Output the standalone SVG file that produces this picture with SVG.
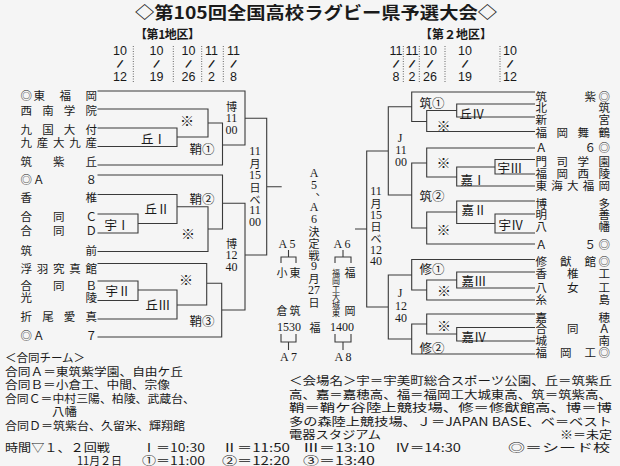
<svg xmlns="http://www.w3.org/2000/svg" width="620" height="466" viewBox="0 0 620 466">
<style>
text{font-family:"Noto Sans CJK JP","Noto Sans",sans-serif;fill:#1a1a1a;dominant-baseline:central}
.nm{font-size:11.5px}
.lb{font-size:12.5px;text-anchor:middle}
.km{font-size:14px;text-anchor:middle}
.vk{font-size:11px;text-anchor:middle}
.sq{font-size:8px;text-anchor:middle}
.s{font-family:"Liberation Serif","Noto Sans CJK JP",serif;font-size:12px}
.dt{font-family:"Liberation Sans","Noto Sans",sans-serif;font-size:12.5px;text-anchor:middle}
.sl{font-family:"Liberation Sans",sans-serif;font-size:12px;text-anchor:middle;font-weight:bold}
.ttl{font-size:16.5px;font-weight:bold}
.hd{font-size:12px;font-weight:bold}
.nt{font-size:11.5px}
.ln{fill:none;stroke:#3a3a3a;stroke-width:1.1}
.dot{fill:none;stroke:#666;stroke-width:1;stroke-dasharray:1 1.5}
</style>
<rect width="620" height="466" fill="#f5f5f5"/>
<g id="title">
<text class="ttl" x="135" y="12" textLength="362" lengthAdjust="spacingAndGlyphs">◇第105回全国高校ラグビー県予選大会◇</text>
<text class="hd" x="135" y="33" textLength="65">【第1地区】</text>
<text class="hd" x="420" y="33" textLength="72">【第２地区】</text>
</g>
<g id="dates">
<path class="dot" d="M133.3 46V82M173.3 46V82M201.7 46V82M223.3 46V82M403.3 46V82M419.3 46V82M445 46V82M500 46V82"/>
<text class="dt" x="120" y="51">10</text><text class="sl" x="120" y="64" transform="rotate(25 120 64)">/</text><text class="dt" x="120" y="77">12</text>
<text class="dt" x="156.5" y="51">10</text><text class="sl" x="156.5" y="64" transform="rotate(25 156.5 64)">/</text><text class="dt" x="156.5" y="77">19</text>
<text class="dt" x="188.5" y="51">10</text><text class="sl" x="188.5" y="64" transform="rotate(25 188.5 64)">/</text><text class="dt" x="188.5" y="77">26</text>
<text class="dt" x="211.5" y="51">11</text><text class="sl" x="211.5" y="64" transform="rotate(25 211.5 64)">/</text><text class="dt" x="211.5" y="77">2</text>
<text class="dt" x="233.5" y="51">11</text><text class="sl" x="233.5" y="64" transform="rotate(25 233.5 64)">/</text><text class="dt" x="233.5" y="77">8</text>
<text class="dt" x="396" y="51">11</text><text class="sl" x="396" y="64" transform="rotate(25 396 64)">/</text><text class="dt" x="396" y="77">8</text>
<text class="dt" x="412" y="51">11</text><text class="sl" x="412" y="64" transform="rotate(25 412 64)">/</text><text class="dt" x="412" y="77">2</text>
<text class="dt" x="430" y="51">10</text><text class="sl" x="430" y="64" transform="rotate(25 430 64)">/</text><text class="dt" x="430" y="77">26</text>
<text class="dt" x="465" y="51">10</text><text class="sl" x="465" y="64" transform="rotate(25 465 64)">/</text><text class="dt" x="465" y="77">19</text>
<text class="dt" x="510" y="51">10</text><text class="sl" x="510" y="64" transform="rotate(25 510 64)">/</text><text class="dt" x="510" y="77">12</text>
</g>
<g id="connectors">
<path class="ln" d="M97.5 91H245V145H222.5M208 123H222.5V165H97.5M97.5 109H208V137H177M97.5 128H177V146.5H97.5M245 118.3H266.7V255H245M266.7 186.7H281.7M222.5 203.3H245V310H221.7M97.5 175H222.5V229H208M97.5 194.5H177V223.5H138M97.5 214H138V233H97.5M177 206.7H208V251.5H97.5M206.7 283.3H221.7V337H97.5M97.5 263.5H206.7V305H177M138 290H177V319H97.5M97.5 281H138V300.5H97.5"/>
<path class="ln" d="M411.7 106.7H388.3V195H411.7M388.3 151H366.7V307H388.3M366.7 229H355M535 92H411.7V121.5H426.7M456.7 110.5H426.7V131.5H535M535 104H456.7V117H535M426.7 163H411.7V228H426.7M535 148H426.7V177H456.7M495 167H456.7V186H535M535 159.5H495V174H535M456.7 212H426.7V244H535M535 201H456.7V223.5H495M535 214H495V233H535M411.7 275H388.3V339H411.7M535 259.5H411.7V290H426.7M456.7 280H426.7V300H535M535 272H456.7V288H535M426.7 324H411.7V354H535M535 314H426.7V334H456.7M535 327.5H456.7V341H535"/>
<path class="ln" d="M288.5 250V257M281 263V257H296V263M343 250V257M335 263V257H351V263M281 334V342H296V334M288.5 342V350M335 334V342H351V334M343 342V350"/>
</g>
<g id="teams-left">
<g id="L1"><text class="nm" x="20.5 33.5 59.5 85.5" y="95">◎東福岡</text></g>
<g id="L2"><text class="nm" x="20.5 42.2 63.8 85.5" y="110">西南学院</text></g>
<g id="L3"><text class="nm" x="20.5 42.2 63.8 85.5" y="129">九国大付</text></g>
<g id="L4"><text class="nm" x="20.5 36.75 53 69.25 85.5" y="142">九産大九産</text></g>
<g id="L5"><text class="nm" x="20.5 53 85.5" y="161">筑紫丘</text></g>
<g id="L6"><text class="nm" x="20.5 33 85.5" y="179">◎Ａ８</text></g>
<g id="L7"><text class="nm" x="20.5 85.5" y="197">香椎</text></g>
<g id="L8"><text class="nm" x="20.5 53 85.5" y="216">合同Ｃ</text></g>
<g id="L9"><text class="nm" x="20.5 53 85.5" y="230">合同Ｄ</text></g>
<g id="L10"><text class="nm" x="20.5 85.5" y="250">筑前</text></g>
<g id="L11"><text class="nm" x="20.5 36.75 53 69.25 85.5" y="268">浮羽究真館</text></g>
<g id="L12"><text class="nm" x="20.5 53 85.5" y="285">合同Ｂ</text></g>
<g id="L13"><text class="nm" x="20.5 85.5" y="297">光陵</text></g>
<g id="L14"><text class="nm" x="20.5 42.2 63.8 85.5" y="316">折尾愛真</text></g>
<g id="L15"><text class="nm" x="20.5 33 85.5" y="335">◎Ａ７</text></g>
</g>
<g id="teams-right">
<g id="R1"><text class="nm" x="535.5 584.5 598.5" y="95.5">筑紫◎</text></g>
<g id="R2"><text class="nm" x="535.5 598.5" y="106.5">北筑</text></g>
<g id="R3"><text class="nm" x="535.5 598.5" y="118.5">新宮</text></g>
<g id="R4"><text class="nm" x="535.5 556.5 577.5 598.5" y="132">福岡舞鶴</text></g>
<g id="R5"><text class="nm" x="535.5 584.5 598.5" y="147">Ａ６◎</text></g>
<g id="R6"><text class="nm" x="535.5 556.5 577.5 598.5" y="161">門司学園</text></g>
<g id="R7"><text class="nm" x="535.5 556.5 577.5 598.5" y="173">福岡西陵</text></g>
<g id="R8"><text class="nm" x="535.5 551.25 567 582.75 598.5" y="185">東海大福岡</text></g>
<g id="R9"><text class="nm" x="535.5 598.5" y="202.5">博多</text></g>
<g id="R10"><text class="nm" x="535.5 598.5" y="214">明善</text></g>
<g id="R11"><text class="nm" x="535.5 598.5" y="225.5">八幡</text></g>
<g id="R12"><text class="nm" x="535.5 584.5 598.5" y="243.5">Ａ５◎</text></g>
<g id="R13"><text class="nm" x="535.5 560 584.5 598.5" y="261">修猷館◎</text></g>
<g id="R14"><text class="nm" x="535.5 567 598.5" y="273">香椎工</text></g>
<g id="R15"><text class="nm" x="535.5 567 598.5" y="287">八女工</text></g>
<g id="R16"><text class="nm" x="535.5 598.5" y="298.5">糸島</text></g>
<g id="R17"><text class="nm" x="535.5 598.5" y="316.5">嘉穂</text></g>
<g id="R18"><text class="nm" x="535.5 567 598.5" y="328">合同Ａ</text></g>
<g id="R19"><text class="nm" x="535.5 598.5" y="339.5">城南</text></g>
<g id="R20"><text class="nm" x="535.5 560 584.5 598.5" y="352">福岡工◎</text></g>
</g>
<g id="matches">
<text class="lb" x="153.5" y="138">丘Ⅰ</text>
<text class="km" x="187" y="120">※</text>
<text class="lb" x="202" y="148">鞘①</text>
<text class="lb" x="157" y="208">丘Ⅱ</text>
<text class="lb" x="117" y="224">宇Ⅰ</text>
<text class="km" x="188" y="233">※</text>
<text class="lb" x="202" y="198">鞘②</text>
<text class="km" x="186" y="279">※</text>
<text class="lb" x="118" y="290">宇Ⅱ</text>
<text class="lb" x="158" y="304">丘Ⅲ</text>
<text class="lb" x="202" y="320">鞘③</text>
<text class="vk" x="231.5"><tspan x="231.5" y="105.5">博</tspan><tspan class="s" x="231.5" y="117.5">11</tspan><tspan class="s" x="231.5" y="130">00</tspan></text>
<text class="vk" x="231.5"><tspan x="231.5" y="243">博</tspan><tspan class="s" x="231.5" y="255">12</tspan><tspan class="s" x="231.5" y="267">40</tspan></text>
<text class="vk" x="255"><tspan class="s" x="255" y="151">11</tspan><tspan x="255" y="163">月</tspan><tspan class="s" x="255" y="175">15</tspan><tspan x="255" y="187">日</tspan><tspan x="255" y="198.5">ベ</tspan><tspan class="s" x="255" y="210">11</tspan><tspan class="s" x="255" y="222">00</tspan></text>
<text class="lb" x="432" y="102">筑①</text>
<text class="lb" x="472" y="113">丘Ⅳ</text>
<text class="km" x="443.5" y="125">※</text>
<text class="km" x="443.5" y="162">※</text>
<text class="lb" x="510" y="167">宇Ⅲ</text>
<text class="lb" x="473" y="179">嘉Ⅰ</text>
<text class="lb" x="432" y="195">筑②</text>
<text class="lb" x="474" y="209">嘉Ⅱ</text>
<text class="lb" x="511" y="224">宇Ⅳ</text>
<text class="km" x="443.5" y="229">※</text>
<text class="lb" x="432" y="268">修①</text>
<text class="lb" x="474" y="280">嘉Ⅲ</text>
<text class="km" x="444" y="290">※</text>
<text class="km" x="444" y="325">※</text>
<text class="lb" x="474" y="336">嘉Ⅳ</text>
<text class="lb" x="432" y="347">修②</text>
<text class="vk" x="400"><tspan class="s" x="400" y="138">J</tspan><tspan class="s" x="401" y="150">11</tspan><tspan class="s" x="401" y="162">00</tspan></text>
<text class="vk" x="400"><tspan class="s" x="400" y="293">J</tspan><tspan class="s" x="401" y="306">12</tspan><tspan class="s" x="401" y="318">40</tspan></text>
<text class="vk" x="376"><tspan class="s" x="376" y="191">11</tspan><tspan x="376" y="203">月</tspan><tspan class="s" x="376" y="214.5">15</tspan><tspan x="376" y="226">日</tspan><tspan x="376" y="238">ベ</tspan><tspan class="s" x="376" y="249.5">12</tspan><tspan class="s" x="376" y="261">40</tspan></text>
</g>
<g id="center">
<text class="vk"><tspan class="s" x="314" y="173">A</tspan><tspan class="s" x="314" y="185">5</tspan><tspan x="321" y="190">、</tspan><tspan class="s" x="314" y="207">A</tspan><tspan class="s" x="314" y="218.5">6</tspan><tspan x="314" y="231">決</tspan><tspan x="314" y="243">定</tspan><tspan x="314" y="254.5">戦</tspan><tspan class="s" x="314" y="266">9</tspan><tspan x="314" y="278">月</tspan><tspan class="s" x="314" y="290">27</tspan><tspan x="314" y="302">日</tspan></text>
<g id="A5"><text class="vk s" x="287" y="244">A 5</text>
<text class="vk" x="282" y="272">小</text><text class="vk" x="282" y="310">倉</text>
<text class="vk" x="295" y="272">東</text><text class="vk" x="295" y="310">筑</text></g>
<g id="A6"><text class="vk s" x="342" y="244">A 6</text>
<text class="sq"><tspan x="336" y="271.5">福</tspan><tspan x="336" y="279.5">岡</tspan><tspan x="336" y="287.5">工</tspan><tspan x="336" y="295.5">大</tspan><tspan x="336" y="303.5">城</tspan><tspan x="336" y="311.5">東</tspan></text>
<text class="vk" x="350" y="272">福</text><text class="vk" x="350" y="310">岡</text></g>
<text class="vk s" x="289" y="327">1530</text>
<text class="vk" x="315" y="327">福</text>
<text class="vk s" x="342" y="327">1400</text>
<g id="A7"><text class="vk s" x="288.5" y="357">A 7</text></g>
<g id="A8"><text class="vk s" x="343" y="357">A 8</text></g>
</g>
<g id="notes">
<text class="nt" x="5" y="357" textLength="80">＜合同チーム＞</text>
<text class="nt" x="5" y="370.5" textLength="178" lengthAdjust="spacingAndGlyphs">合同Ａ＝東筑紫学園、自由ケ丘</text>
<text class="nt" x="5" y="384" textLength="165" lengthAdjust="spacingAndGlyphs">合同Ｂ＝小倉工、中間、宗像</text>
<text class="nt" x="5" y="397.5" textLength="190" lengthAdjust="spacingAndGlyphs">合同Ｃ＝中村三陽、柏陵、武蔵台、</text>
<text class="nt" x="52" y="411" textLength="25" lengthAdjust="spacingAndGlyphs">八幡</text>
<text class="nt" x="5" y="424.5" textLength="180" lengthAdjust="spacingAndGlyphs">合同Ｄ＝筑紫台、久留米、輝翔館</text>
<text class="nt" x="289" y="380" textLength="323" lengthAdjust="spacingAndGlyphs">＜会場名＞宇＝宇美町総合スポーツ公園、丘＝筑紫丘</text>
<text class="nt" x="289" y="393.5" textLength="323" lengthAdjust="spacingAndGlyphs">高、嘉＝嘉穂高、福＝福岡工大城東高、筑＝筑紫高、</text>
<text class="nt" x="289" y="407" textLength="323" lengthAdjust="spacingAndGlyphs">鞘＝鞘ケ谷陸上競技場、修＝修猷館高、博＝博</text>
<text class="nt" x="289" y="420.5" textLength="323" lengthAdjust="spacingAndGlyphs">多の森陸上競技場、Ｊ＝JAPAN BASE、ベ＝ベスト</text>
<text class="nt" x="289" y="434" textLength="92" lengthAdjust="spacingAndGlyphs">電器スタジアム</text>
<text class="nt" x="560" y="434" textLength="52" lengthAdjust="spacingAndGlyphs">※＝未定</text>
<text class="nt" x="5" y="447" textLength="105" lengthAdjust="spacingAndGlyphs">時間▽１、２回戦</text>
<text class="nt" x="142" y="447" textLength="63" lengthAdjust="spacingAndGlyphs">Ⅰ＝10:30</text>
<text class="nt" x="222" y="447" textLength="68" lengthAdjust="spacingAndGlyphs">Ⅱ＝11:50</text>
<text class="nt" x="303" y="447" textLength="72" lengthAdjust="spacingAndGlyphs">Ⅲ＝13:10</text>
<text class="nt" x="395" y="447" textLength="66" lengthAdjust="spacingAndGlyphs">Ⅳ＝14:30</text>
<text class="nt" x="508" y="447" textLength="102" lengthAdjust="spacingAndGlyphs">◎＝シード校</text>
<text class="nt" x="77" y="459.5" textLength="45" lengthAdjust="spacingAndGlyphs">11月２日</text>
<text class="nt" x="142" y="459.5" textLength="63" lengthAdjust="spacingAndGlyphs">①＝11:00</text>
<text class="nt" x="222" y="459.5" textLength="68" lengthAdjust="spacingAndGlyphs">②＝12:20</text>
<text class="nt" x="303" y="459.5" textLength="72" lengthAdjust="spacingAndGlyphs">③＝13:40</text>
</g>
</svg>
